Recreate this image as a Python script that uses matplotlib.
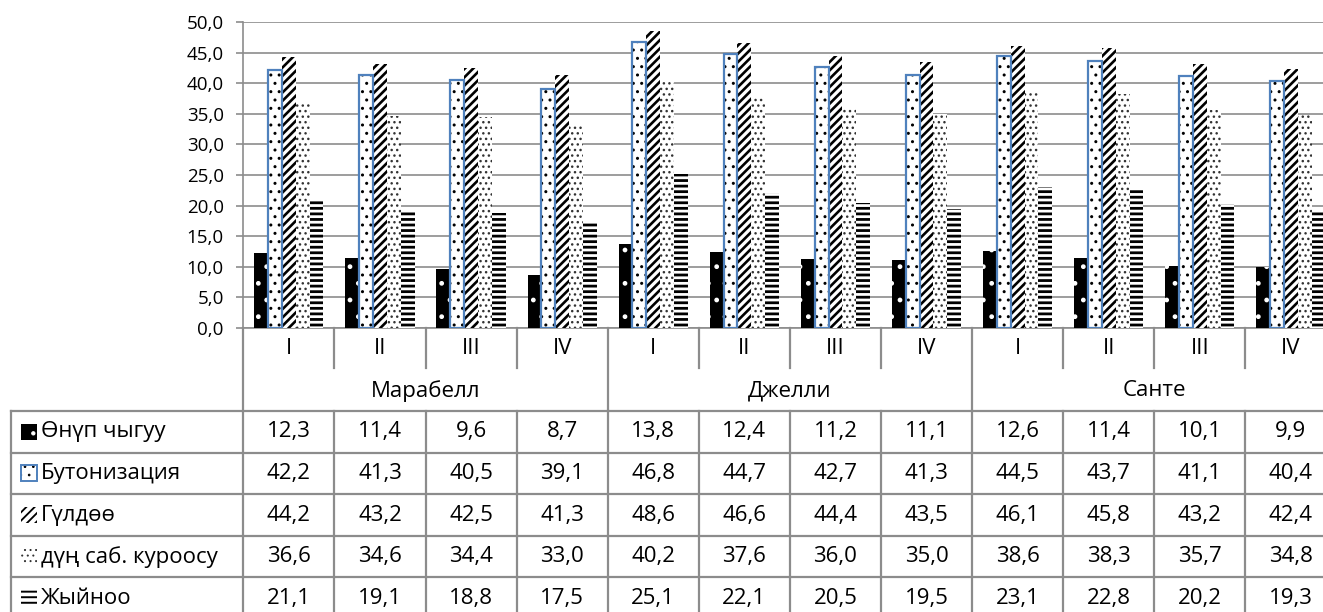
import matplotlib
matplotlib.use('Agg')
import matplotlib.pyplot as plt
from matplotlib.patches import Rectangle
import numpy as np

plt.rcParams['font.family'] = ['Open Sans', 'DejaVu Sans']

# data
stages = ['I', 'II', 'III', 'IV'] * 3
varieties = ['Марабелл', 'Джелли', 'Санте']
series_names = ['Өнүп чыгуу', 'Бутонизация', 'Гүлдөө', 'дүң саб. куроосу', 'Жыйноо']
emergence = [12.3, 11.4, 9.6, 8.7, 13.8, 12.4, 11.2, 11.1, 12.6, 11.4, 10.1, 9.9]
budding = [42.2, 41.3, 40.5, 39.1, 46.8, 44.7, 42.7, 41.3, 44.5, 43.7, 41.1, 40.4]
flowering = [44.2, 43.2, 42.5, 41.3, 48.6, 46.6, 44.4, 43.5, 46.1, 45.8, 43.2, 42.4]
dry_mass = [36.6, 34.6, 34.4, 33.0, 40.2, 37.6, 36.0, 35.0, 38.6, 38.3, 35.7, 34.8]
harvest = [21.1, 19.1, 18.8, 17.5, 25.1, 22.1, 20.5, 19.5, 23.1, 22.8, 20.2, 19.3]
series = [emergence, budding, flowering, dry_mass, harvest]

# styles: face, hatch colour, hatch, hatch linewidth, border colour
styles = [
    ('black', 'white', '.', 1.0, None),
    ('white', 'black', '..', 1.0, '#4F81BD'),
    ('white', 'black', '////', 1.9, None),
    ('white', '#333333', '...', 1.0, None),
    ('white', 'black', '---', 2.0, None),
]

W, H = 1323, 612
fig = plt.figure(figsize=(W / 100, H / 100), dpi=100)

# pixel layout
x0, cw = 243.3, 91.1
y_top, y_axis = 22, 328
ax = fig.add_axes([x0 / W, 1 - y_axis / H, 12 * cw / W, (y_axis - y_top) / H])

n = len(stages)
x = np.arange(n)
bw = 0.152
grid_c = '#8c8c8c'
for k, vals in enumerate(series):
    face, hc, hatch, hlw, border = styles[k]
    pos = x + 0.5 + (k - 2) * bw
    with plt.rc_context({'hatch.linewidth': hlw}):
        ax.bar(pos, vals, bw, color=face, edgecolor=hc, hatch=hatch,
               linewidth=0, zorder=3)
    if border:
        ax.bar(pos, vals, bw, fill=False, edgecolor=border, linewidth=1.6, zorder=4)

ax.set_xlim(0, n)
ax.set_ylim(0, 50)
ax.set_yticks(np.arange(0, 51, 5))
ax.set_yticklabels([f'{v:.1f}'.replace('.', ',') for v in np.arange(0, 51, 5)],
                   fontsize=13.5)
ax.set_xticks([])
ax.yaxis.grid(True, color=grid_c, linewidth=1.2, zorder=0)
ax.tick_params(axis='y', length=5, color=grid_c, width=1.2, pad=9)
for s in ['top', 'right']:
    ax.spines[s].set_visible(False)
ax.spines['left'].set_color(grid_c)
ax.spines['left'].set_linewidth(1.2)
ax.spines['bottom'].set_color(grid_c)
ax.spines['bottom'].set_linewidth(1.2)

# table overlay in pixel coordinates
tab = fig.add_axes([0, 0, 1, 1], facecolor='none')
tab.set_xlim(0, W)
tab.set_ylim(H, 0)
tab.axis('off')

lc = grid_c
lw = 1.6
fs = 16
cat_bot = 368
grp_bot = 411
row_h = 41.6
lab_left = 10.5

def col_x(i):
    return x0 + cw * i

# category row
for i in range(n):
    tab.text(col_x(i) + cw / 2, 349, stages[i], ha='center', va='center',
             fontsize=fs)
    if i > 0 and i % 4 != 0:
        tab.plot([col_x(i)] * 2, [y_axis, cat_bot], color=lc, lw=lw)
# group row
for g, name in enumerate(varieties):
    tab.text(col_x(4 * g + 2), 391, name, ha='center', va='center', fontsize=fs)
    if g > 0:
        tab.plot([col_x(4 * g)] * 2, [y_axis, grp_bot], color=lc, lw=lw)
tab.plot([col_x(0)] * 2, [y_axis, H], color=lc, lw=lw)

# data rows
for r, vals in enumerate(series):
    top = grp_bot + r * row_h
    tab.plot([lab_left, W], [top, top], color=lc, lw=lw)
    cy = top + row_h / 2
    face, hc, hatch, hlw, border = styles[r]
    with plt.rc_context({'hatch.linewidth': hlw * 0.7}):
        tab.add_patch(Rectangle((21, cy - 8), 16, 16, facecolor=face, edgecolor=hc,
                                hatch=hatch, linewidth=0))
    if border:
        tab.add_patch(Rectangle((21, cy - 8), 16, 16, fill=False, edgecolor=border,
                                linewidth=1.4))
    tab.text(41, cy, series_names[r], ha='left', va='center', fontsize=fs)
    for i, v in enumerate(vals):
        tab.text(col_x(i) + cw / 2, cy, f'{v:.1f}'.replace('.', ','), ha='center',
                 va='center', fontsize=fs)
tab.plot([lab_left] * 2, [grp_bot, H], color=lc, lw=lw)
for i in range(1, n):
    tab.plot([col_x(i)] * 2, [grp_bot, H], color=lc, lw=lw)

fig.savefig('out.png', dpi=100)
